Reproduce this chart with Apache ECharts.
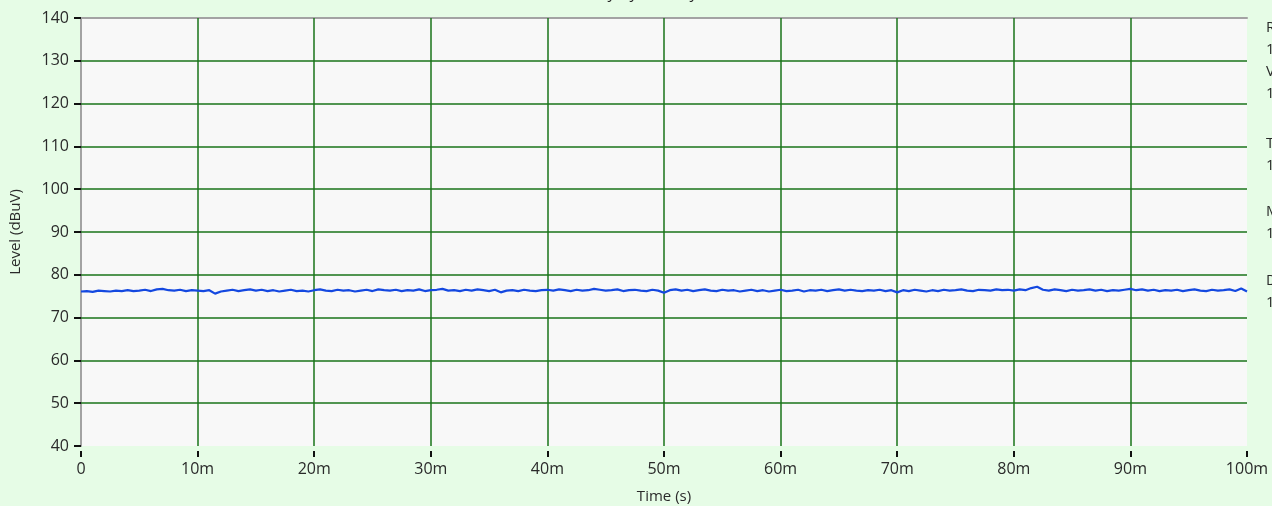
<!DOCTYPE html>
<html>
<head>
<meta charset="utf-8">
<script src="https://cdn.jsdelivr.net/npm/echarts@6/dist/echarts.min.js"></script>
<style>
  html, body { margin: 0; padding: 0; background: #e6fce6; }
  #chart { width: 1272px; height: 506px; }
</style>
</head>
<body>
<div id="chart"></div>
<script>
// Level trace sampled every 0.5 ms over 100 ms (dBuV)
const sampleStepSec = 0.0005;
const levelDbuv = [
  76.1,76.2,76.0,76.3,76.2,76.1,76.3,76.2,76.4,76.2,76.3,76.5,76.2,76.6,76.7,76.4,76.3,76.5,76.2,76.4,76.3,
  76.2,76.4,75.6,76.1,76.3,76.5,76.2,76.4,76.6,76.3,76.5,76.2,76.4,76.1,76.3,76.5,76.2,76.3,76.1,76.4,
  76.6,76.3,76.2,76.5,76.3,76.4,76.1,76.3,76.5,76.2,76.6,76.4,76.3,76.5,76.2,76.4,76.3,76.6,76.2,76.4,
  76.5,76.7,76.3,76.4,76.2,76.5,76.3,76.6,76.4,76.2,76.5,75.9,76.3,76.4,76.2,76.5,76.3,76.2,76.4,76.5,
  76.3,76.6,76.4,76.2,76.5,76.3,76.4,76.7,76.5,76.3,76.4,76.6,76.2,76.4,76.5,76.3,76.2,76.5,76.3,75.8,
  76.4,76.6,76.3,76.5,76.2,76.4,76.6,76.3,76.2,76.5,76.3,76.4,76.1,76.3,76.5,76.2,76.4,76.1,76.3,76.5,
  76.2,76.3,76.5,76.1,76.4,76.3,76.5,76.2,76.4,76.6,76.3,76.5,76.3,76.2,76.4,76.3,76.5,76.2,76.4,75.9,
  76.4,76.2,76.5,76.3,76.1,76.4,76.2,76.5,76.3,76.4,76.6,76.3,76.2,76.5,76.4,76.3,76.6,76.4,76.5,76.3,
  76.6,76.4,76.9,77.2,76.5,76.3,76.6,76.4,76.2,76.5,76.3,76.4,76.6,76.3,76.5,76.2,76.4,76.3,76.5,76.7,
  76.4,76.6,76.3,76.5,76.2,76.4,76.3,76.5,76.2,76.4,76.6,76.3,76.2,76.5,76.3,76.4,76.6,76.2,76.8,76.1
];

// Axis ranges and tick positions
const yTicks = [40, 50, 60, 70, 80, 90, 100, 110, 120, 130, 140];
const xTickSec = [0, 0.01, 0.02, 0.03, 0.04, 0.05, 0.06, 0.07, 0.08, 0.09, 0.1];

// Side panel text (clipped at the right edge of the window)
const sideLabels = ['RBW', '120 kHz', 'VBW', '100 kHz', 'Time', '100 ms', 'Meas', '100 us', 'Det', '1 Peak'];
const sideLabelY = [30, 52, 74, 96, 146, 168, 214, 236, 283, 305];
const titleText = 'Stability by Density';

const FONT = '"Open Sans", "Noto Sans", sans-serif';
const TEXT = '#2a2a2a';
const GRID_GREEN = '#1a741a';
const PLOT_BG = '#f8f8f8';
const TICK = '#111';

const points = levelDbuv.map((v, i) => [+(i * sampleStepSec).toFixed(4), v]);

function timeLabel(v) {
  const ms = Math.round(v * 1000);
  return ms === 0 ? '0' : ms + 'm';
}

// Inner grid lines only (the plot edges have their own styling)
const gridLines = []
  .concat(xTickSec.slice(1, -1).map(x => ({ xAxis: x })))
  .concat(yTicks.slice(1, -1).map(y => ({ yAxis: y })));

const chart = echarts.init(document.getElementById('chart'), null, { renderer: 'canvas' });

const graphics = sideLabels.map((t, i) => ({
  type: 'text', left: 1266, top: sideLabelY[i] - 10,
  style: { text: t, font: '15px ' + FONT, fill: TEXT }
}));
graphics.push({
  type: 'text', x: 627, y: 1,
  style: { text: titleText, font: '16px ' + FONT, fill: TEXT, align: 'center', verticalAlign: 'bottom' }
});

chart.setOption({
  backgroundColor: '#e6fce6',
  animation: false,
  grid: {
    left: 81, right: 25, top: 18, bottom: 60,
    outerBoundsMode: 'none', containLabel: false,
    show: true, backgroundColor: PLOT_BG, borderWidth: 0
  },
  xAxis: [
    {
      type: 'value', min: 0, max: 0.1, interval: 0.01, position: 'bottom', offset: 5,
      axisLine: { show: false },
      axisTick: { show: true, length: 6, lineStyle: { color: TICK, width: 2 } },
      axisLabel: { show: true, margin: 10, formatter: timeLabel, color: TEXT, fontSize: 16, fontFamily: FONT },
      splitLine: { show: false },
      name: 'Time (s)', nameLocation: 'middle', nameGap: 38,
      nameTextStyle: { color: TEXT, fontSize: 15, fontFamily: FONT }
    },
    {
      type: 'value', min: 0, max: 0.1, position: 'top',
      axisLine: { show: true, lineStyle: { color: '#a3a3a3', width: 2 } },
      axisTick: { show: false }, axisLabel: { show: false }, splitLine: { show: false }
    }
  ],
  yAxis: [
    {
      type: 'value', min: yTicks[0], max: yTicks[yTicks.length - 1], interval: 10,
      axisLine: { show: true, lineStyle: { color: '#a3a3a3', width: 2 } },
      axisTick: { show: true, length: 7, lineStyle: { color: TICK, width: 2 } },
      axisLabel: { margin: 12, color: TEXT, fontSize: 16, fontFamily: FONT },
      splitLine: { show: false },
      name: 'Level (dBuV)', nameLocation: 'middle', nameGap: 58, nameRotate: 90,
      nameTextStyle: { color: TEXT, fontSize: 15, fontFamily: FONT }
    }
  ],
  series: [
    {
      type: 'line', xAxisIndex: 0, yAxisIndex: 0, data: [], z: 1, silent: true,
      markLine: {
        silent: true, symbol: 'none', label: { show: false }, animation: false,
        lineStyle: { color: GRID_GREEN, width: 1.5, type: 'solid' },
        data: gridLines
      }
    },
    {
      type: 'line', xAxisIndex: 0, yAxisIndex: 0,
      data: points, showSymbol: false, symbol: 'none',
      lineStyle: { color: '#1448e0', width: 2.2 },
      z: 5
    }
  ],
  graphic: graphics
});
</script>
</body>
</html>
